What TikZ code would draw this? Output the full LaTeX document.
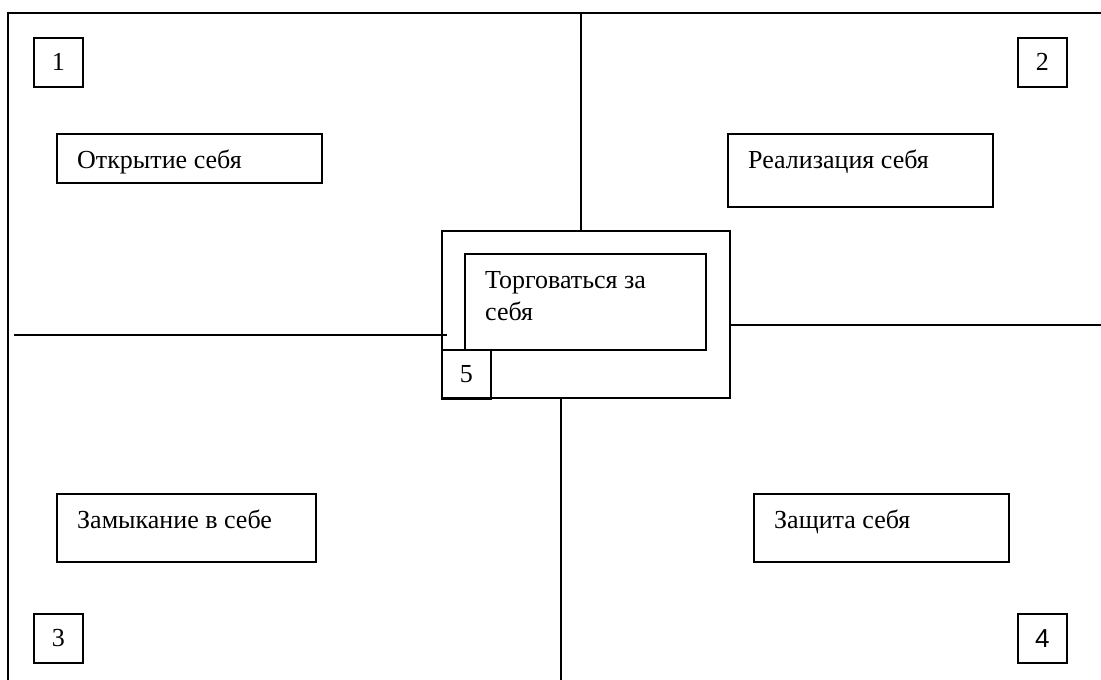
\documentclass[tikz,border=0pt]{standalone}
\usepackage{fontspec}
\setmainfont{Liberation Serif}
\newfontfamily\sansdigit{Liberation Sans}

\begin{document}
\begin{tikzpicture}[x=1pt,y=-1pt,
        frame/.style={line width=2pt},
        link/.style={line width=1.5pt},
        box/.style={draw, line width=1.5pt, inner sep=0pt, anchor=north west},
        numbox/.style={box, minimum width=49, minimum height=49,
            font=\fontsize{26}{32}\selectfont},
        txt/.style={anchor=base west, inner sep=0pt, align=left,
            font=\fontsize{26}{32}\selectfont}]
        \useasboundingbox (0,0) rectangle (1101,680);

        % outer frame (top and left edges only)
        \draw[frame] (1101,13) -- (8,13) -- (8,680);

        % number boxes in the corners
        \node[numbox] (n1) at (33,37) {1};
        \node[numbox] (n2) at (1017,37) {2};
        \node[numbox] (n3) at (33,613) {3};
        \node[numbox] (n4) at (1017,613) {\sansdigit 4};

        % quadrant boxes
        \node[box, minimum width=265, minimum height=49] (open) at (56,133) {};
        \node[txt] (opentxt) at ([shift={(21,35)}]open.north west) {Открытие себя};
        \node[box, minimum width=265, minimum height=73] (real) at (727,133) {};
        \node[txt] (realtxt) at ([shift={(21,35)}]real.north west) {Реализация себя};
        \node[box, minimum width=259, minimum height=68] (close) at (56,493) {};
        \node[txt] (closetxt) at ([shift={(21,35)}]close.north west) {Замыкание в себе};
        \node[box, minimum width=255, minimum height=68] (guard) at (753,493) {};
        \node[txt] (guardtxt) at ([shift={(21,35)}]guard.north west) {Защита себя};

        % centre
        \node[box, minimum width=288, minimum height=167] (core) at (441,230) {};
        \node[box, minimum width=241, minimum height=96] (deal) at (464,253) {};
        % base of a two-line node sits on its last line
        \node[txt] (dealtxt) at ([shift={(21,67)}]deal.north west) {Торговаться за\\себя};
        \node[numbox] (n5) at (441,349) {5};

        % axes
        \coordinate (ntop) at (581,13);
        \coordinate (wend) at (14,335);
        \coordinate (eend) at (1101,325);
        \coordinate (send) at (561,680);
        \draw[link] (ntop) -- ([yshift=-2]ntop |- core.north);
        \draw[link] (wend) -- ([xshift=6]wend -| core.west);
        \draw[link] (core.east |- eend) -- (eend);
        \draw[link] (core.south -| send) -- (send);
    \end{tikzpicture}
\end{document}
